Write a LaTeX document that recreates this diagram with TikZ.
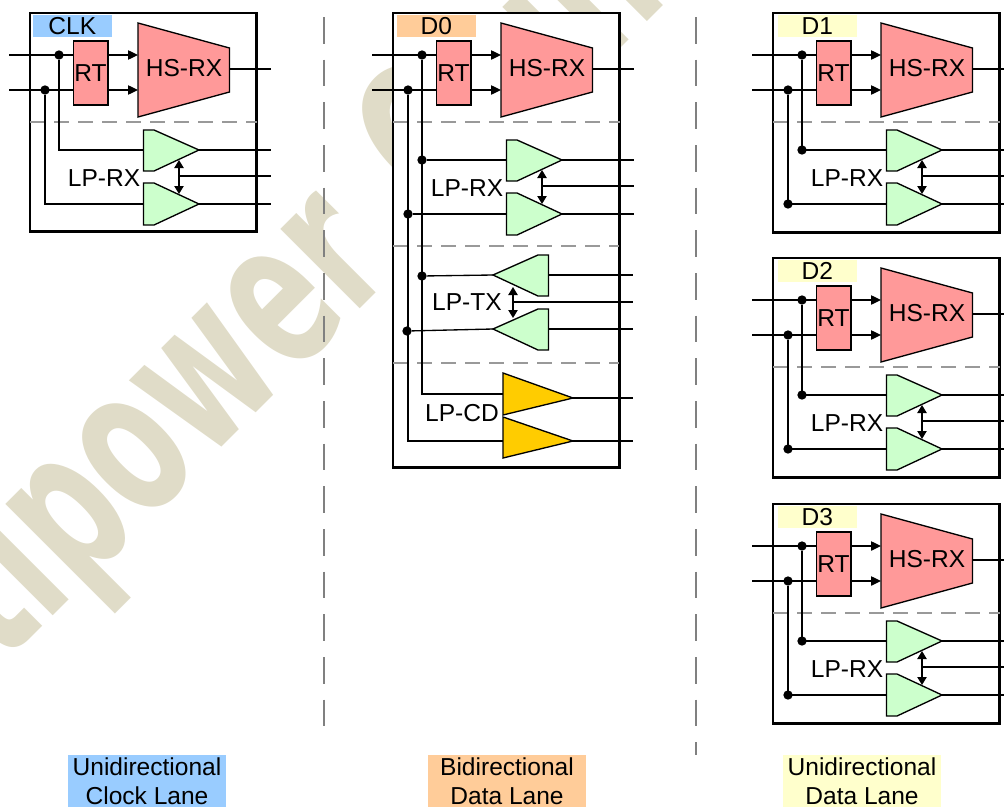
\documentclass[tikz,border=0pt]{standalone}
\usepackage{fontspec}
\setmainfont{Liberation Sans}
\newfontfamily\wmfont{DejaVu Sans}
\usepackage{tikz}
\usetikzlibrary{arrows.meta, positioning}
\definecolor{clkblue}{HTML}{99CCFF}
\definecolor{dzeroorange}{HTML}{FFCC99}
\definecolor{dlaneyellow}{HTML}{FFFFCC}
\definecolor{hspink}{HTML}{FF9999}
\definecolor{lpgreen}{HTML}{CCFFCC}
\definecolor{cdgold}{HTML}{FFCC00}
\definecolor{wmark}{HTML}{E0DCC8}

% receive part, shared by all lanes
\newcommand{\hspart}[4]{% name, x offset, y offset, box height
  \begin{scope}[shift={(#2,#3)}]
  \node[lanebox, minimum height=#4, anchor=north west] (#1) at (30,13) {};
  \draw[sep] (30,122) -- (256.5,122);
  \node[rtbox] (#1rt) at (90.5,73) {RT};
  \draw[shapeline, fill=hspink] (138,23) -- (229.5,48) -- (229.5,92) -- (138,117) -- cycle;
  \node[txt] (#1hs) at (184,68) {HS-RX};
  \coordinate (#1pa) at (9,55);
  \coordinate (#1pb) at (9,90);
  \coordinate (#1ha) at (138,55);
  \coordinate (#1hb) at (138,90);
  \coordinate (#1hout) at (229.5,69);
  \coordinate (#1hend) at (271,69);
  \node[dot] (#1da) at (59,55) {};
  \node[dot] (#1db) at (45,90) {};
  \draw[wire] (#1pa) -- (#1rt.west |- #1pa);
  \draw[wire] (#1pb) -- (#1rt.west |- #1pb);
  \draw[arrow] (#1rt.east |- #1ha) -- (#1ha);
  \draw[arrow] (#1rt.east |- #1hb) -- (#1hb);
  \draw[wire] (#1hout) -- (#1hend);
  \end{scope}
}
% pair of low power receivers
\newcommand{\lprx}[3]{% name, x offset, y offset
  \begin{scope}[shift={(#2,#3)}]
  \draw[shapeline, fill=lpgreen] (143.5,130) -- (154,130) -- (199,150) -- (154,171) -- (143.5,171) -- cycle;
  \draw[shapeline, fill=lpgreen] (143.5,183) -- (154,183) -- (199,204) -- (154,225) -- (143.5,225) -- cycle;
  \node[txt] (#1rx) at (104,178) {LP-RX};
  \coordinate (#1a) at (143.5,150);
  \coordinate (#1b) at (143.5,204);
  \coordinate (#1c) at (179,176);
  \coordinate (#1ct) at (179,160);
  \coordinate (#1cb) at (179,194);
  \coordinate (#1ta) at (199,150);
  \coordinate (#1tb) at (199,204);
  \coordinate (#1oa) at (271,150);
  \coordinate (#1ob) at (271,204);
  \coordinate (#1oc) at (271,176);
  \draw[wire] (#1ta) -- (#1oa);
  \draw[wire] (#1tb) -- (#1ob);
  \draw[wire] (#1c) -- (#1oc);
  \draw[both] (#1ct) -- (#1cb);
  \end{scope}
}

\begin{document}
\begin{tikzpicture}[
    x=0.75pt, y=-0.75pt,
    font=\fontsize{18.4pt}{22pt}\selectfont,
    lanebox/.style={rectangle, draw, fill=white, line width=1.8pt, inner sep=0pt, outer sep=0pt, minimum width=170pt},
    tagbox/.style={rectangle, inner sep=0pt, outer sep=0pt, minimum width=59pt, minimum height=16.5pt},
    rtbox/.style={rectangle, draw, fill=hspink, inner sep=0pt, outer sep=0pt, line width=1pt, minimum width=26pt, minimum height=48pt},
    lanecap/.style={rectangle, align=center, inner sep=0pt, minimum width=118pt, minimum height=39pt},
    txt/.style={inner sep=0pt},
    wire/.style={line width=1pt},
    arrow/.style={wire, -{Triangle[length=7.5pt, width=7pt]}},
    both/.style={wire, {Triangle[length=6pt, width=7pt]}-{Triangle[length=6pt, width=7pt]}},
    sep/.style={draw=black!40, line width=1pt, dash pattern=on 11.5pt off 6.5pt},
    lanesep/.style={draw=black!50, line width=1pt, dash pattern=on 20pt off 12pt},
    shapeline/.style={draw, line width=1pt},
    dot/.style={circle, fill, inner sep=0pt, minimum size=7pt},
]
\useasboundingbox (0,0) rectangle (1004,807);

% watermark
\begin{scope}
\clip (0,0) rectangle (1004,807);
\node[txt, text=wmark, rotate=45, xscale=0.63, transform shape, anchor=base west, font=\wmfont\fontsize{154pt}{154pt}\selectfont\bfseries] (wm) at (2,667) {tlpower\hspace{22pt} Chin};
\end{scope}

\draw[lanesep] (324,17) -- (324,737);
\draw[lanesep] (696,17) -- (696,755);

% clock lane
\hspart{clk}{0}{0}{164pt}
\lprx{clk}{0}{0}
\node[tagbox, fill=clkblue, anchor=north west] (clktag) at (33,15) {CLK};
\draw[wire] (clkda) |- (clka);
\draw[wire] (clkdb) |- (clkb);

% bidirectional lane
\hspart{dz}{363}{0}{341pt}
\lprx{dz}{363}{10}
\node[tagbox, fill=dzeroorange, anchor=north west] (dztag) at (397,15) {D0};
\node[dot] (dzrxa) at (422,160) {};
\node[dot] (dzrxb) at (408,214) {};
\draw[wire] (dzrxa) -- (dza);
\draw[wire] (dzrxb) -- (dzb);
\draw[sep] (393,246) -- (619,246);
\draw[sep] (393,363) -- (619,363);

\draw[shapeline, fill=lpgreen] (493,275) -- (538,255) -- (548.5,255) -- (548.5,296) -- (538,296) -- cycle;
\draw[shapeline, fill=lpgreen] (493,329) -- (538,309) -- (548.5,309) -- (548.5,350) -- (538,350) -- cycle;
\node[txt] (dztx) at (467,302) {LP-TX};
\node[dot] (dztxa) at (422,276) {};
\node[dot] (dztxb) at (407,331) {};
\coordinate (dztxtipa) at (493,275);
\coordinate (dztxtipb) at (493,329);
\draw[wire] (dztxa) -- (dztxtipa);
\draw[wire] (dztxb) -- (dztxtipb);
\draw[wire] (548.5,275) -- (633,275);
\draw[wire] (548.5,329) -- (633,329);
\draw[wire] (513,302) -- (633,302);
\draw[both] (513,287) -- (513,318);

\draw[shapeline, fill=cdgold] (503,373) -- (573,398) -- (503,415) -- cycle;
\draw[shapeline, fill=cdgold] (503,417) -- (573,441) -- (503,458) -- cycle;
\node[txt] (dzcd) at (462,413) {LP-CD};
\coordinate (dzcda) at (503,394);
\coordinate (dzcdb) at (503,441);
\draw[wire] (dzda) |- (dzcda);
\draw[wire] (dzdb) |- (dzcdb);
\draw[wire] (573,398) -- (633,398);
\draw[wire] (573,441) -- (633,441);

% unidirectional data lanes
\foreach \name/\yoff/\ytop in {D1/0/15, D2/245/260, D3/491/506} {
  \hspart{\name}{743}{\yoff}{164.5pt}
  \lprx{\name}{743}{\yoff}
  \node[tagbox, fill=dlaneyellow, anchor=north west] (\name tag) at (778,\ytop) {\name};
  \node[dot] (\name rxa) at (802,150+\yoff) {};
  \node[dot] (\name rxb) at (788,204+\yoff) {};
  \draw[wire] (\name da) |- (\name a);
  \draw[wire] (\name db) |- (\name b);
}

% lane captions
\node[lanecap, fill=clkblue] (capclk) at (147,781) {Unidirectional\\Clock Lane};
\node[lanecap, fill=dzeroorange] (capbi) at (507,781) {Bidirectional\\Data Lane};
\node[lanecap, fill=dlaneyellow] (capuni) at (862,781) {Unidirectional\\Data Lane};

\end{tikzpicture}
\end{document}
